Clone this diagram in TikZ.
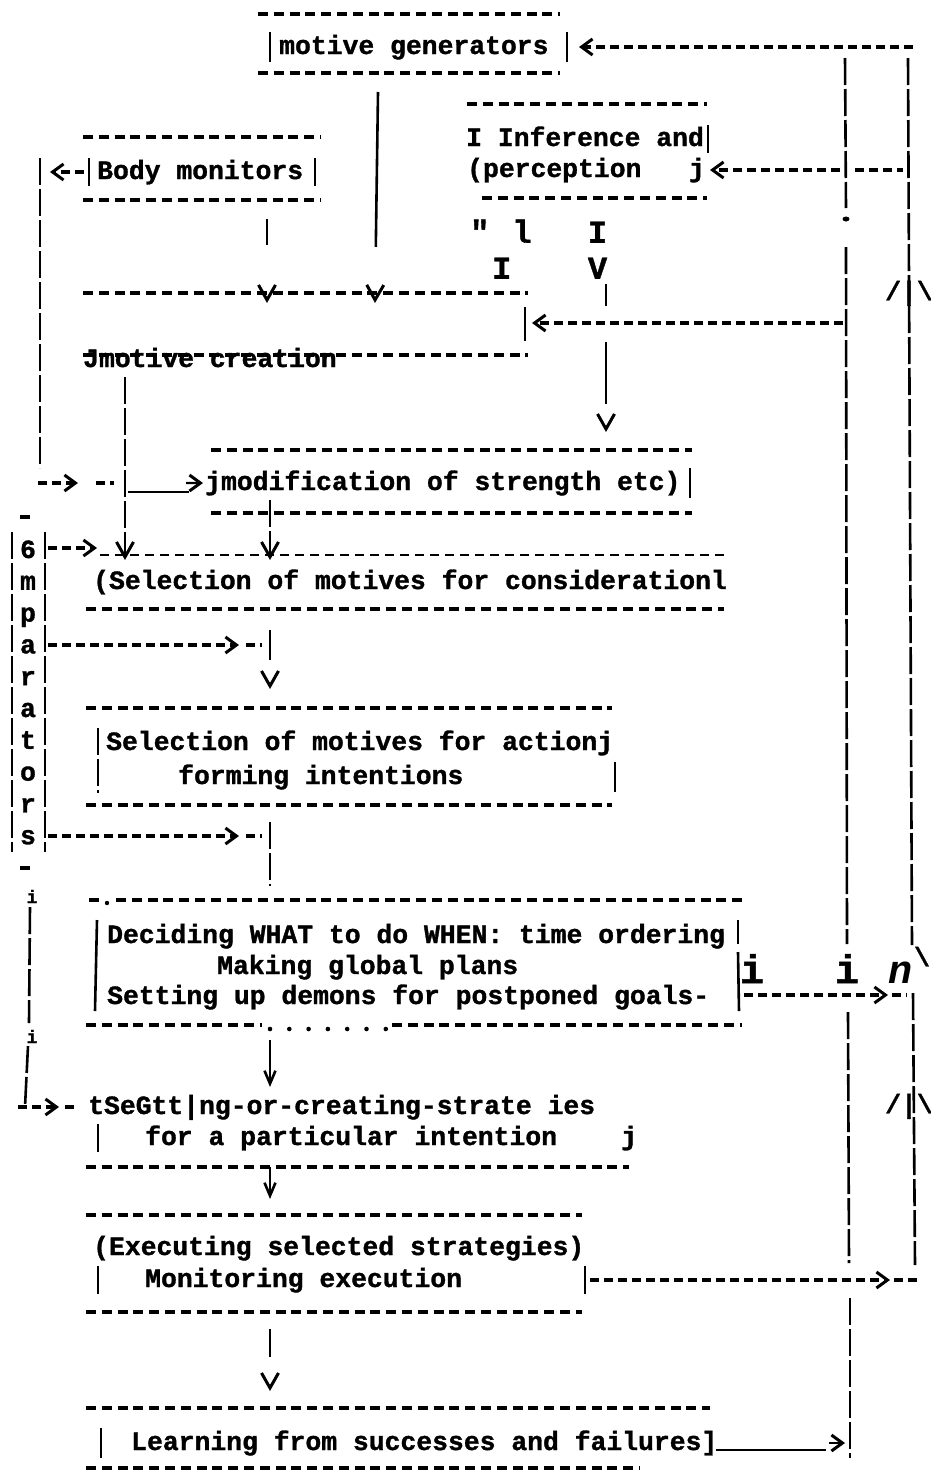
\documentclass[tikz,border=0pt]{standalone}
\usepackage{fontspec}
\usetikzlibrary{arrows.meta}
\newfontfamily\twfont[BoldFeatures={FakeBold=1.2}]{Liberation Mono}
\tikzset{
 txt/.style={anchor=base west,inner sep=0pt,font=\twfont\bfseries\fontsize{26.4}{30}\selectfont},
 ctxt/.style={anchor=base,inner sep=0pt,font=\twfont\bfseries\fontsize{26.4}{30}\selectfont},
 bigtxt/.style={anchor=base,inner sep=0pt,text height=27pt,text depth=0pt,font=\twfont\bfseries\fontsize{40}{44}\selectfont},
 bigpair/.style={inner sep=0pt,align=left,font=\twfont\bfseries\fontsize{32}{36}\selectfont},
 bigit/.style={anchor=base,inner sep=0pt,text height=22pt,text depth=0pt,font=\twfont\bfseries\itshape\fontsize{40}{44}\selectfont},
 smalltxt/.style={anchor=base,inner sep=0pt,font=\twfont\bfseries\fontsize{18}{20}\selectfont},
 rule/.style={line width=3.6pt,dash pattern=on 10pt off 5.8pt},
 link/.style={line width=3.2pt,dash pattern=on 9pt off 5pt},
 vline/.style={line width=2.6pt,dash pattern=on 27pt off 4pt},
 bar/.style={line width=2.6pt},
 solidln/.style={line width=2.4pt},
 hd/.style={-{Straight Barb[length=11pt,width=16pt,line width=3pt]}},
 vd/.style={-{Straight Barb[length=15pt,width=17pt,line width=3pt]}},
 dn/.style={-{Straight Barb[length=13pt,width=11pt,line width=2.6pt]}},
}
\begin{document}
\begin{tikzpicture}[x=1pt,y=-1pt]
\fill[white] (0,0) rectangle (931,1470);
\useasboundingbox (0,0) rectangle (931,1470);

% motive generators
\draw[rule] (258,14) -- (560,14);
\draw[bar] (270,32) -- (270,62);
\node[txt] (gen) at (279,54) {motive generators};
\draw[bar] (567,32) -- (567,62);
\draw[rule] (258,73) -- (560,73);

% right-hand columns
\coordinate (bT) at (913,47);
\draw[link,hd] (bT) -- (579,47);
\draw[vline] (908,58) -- (912,945);
\draw[vline] (913,993) -- (915,1265);
\draw[vline] (845,58) -- (846,208);
\fill (846,219) ellipse (3.5pt and 2.5pt);
\draw[vline] (846,247) -- (847,944);
\draw[vline] (848,1012) -- (849,1263);
\draw[vline] (850,1298) -- (850,1458);
\node[ctxt] (up1) at (909,300) {/|\textbackslash};
\node[ctxt] (up2) at (909,1113) {/|\textbackslash};

% inference and perception
\draw[rule] (467,104) -- (707,104);
\node[txt] (inf1) at (466,146) {I Inference and};
\draw[bar] (708,125) -- (708,153);
\node[txt] (inf2) at (467,177) {(perception~~~j};
\draw[rule] (482,198) -- (707,198);
\draw[link,hd] (840,170) -- (710,170);
\draw[link] (855,170) -- (903,170);

% body monitors
\draw[rule] (83,137) -- (321,137);
\draw[bar] (89,158) -- (89,186);
\node[txt] (body) at (97,179) {Body monitors};
\draw[bar] (315,158) -- (315,186);
\draw[rule] (83,200) -- (321,200);
\draw[link,hd] (84,172) -- (50,172);
\draw[vline] (40,158) -- (40,468);
\draw[link,hd] (38,483) -- (78,483);
\draw[link] (96,483) -- (114,483);

% connectors into motive creation
\draw[vline,dash pattern=on 155pt off 200pt,vd] (378,92) -- (375,303);
\draw[bar,dash pattern=on 26pt off 100pt,vd] (267,219) -- (267,303);
\node[bigpair,anchor=south west] (qlI) at (470,279) {"\hspace*{23pt}l\\\hspace*{22pt}I};
\node[bigpair,align=center,anchor=south] (IV) at (597.5,279) {I\\V};
\draw[vline,dash pattern=on 22pt off 36pt on 62pt off 100pt,vd] (606,284) -- (606,432);

% motive creation
\draw[rule] (83,293) -- (528,293);
\draw[bar] (525,307) -- (525,341);
\draw[link,hd] (843,323) -- (532,323);
\draw[rule] (83,355) -- (528,355);
\node[txt] (create) at (83,367) {Jmotive creation};
\draw[vline,vd] (125,377) -- (125,560);

% modification
\draw[rule] (211,450) -- (692,450);
\node[txt] (mod) at (205,490) {jmodification of strength etc)};
\draw[bar] (690,468) -- (690,498);
\draw[rule] (211,513) -- (692,513);
\draw[solidln] (128,492) -- (189,492);
\draw[solidln,hd,shorten >=2pt] (186,483) -- (mod.west);
\draw[vline,vd] (270,500) -- (270,560);

% comparators
\draw[rule] (20,517) -- (33,517);
\draw[vline] (12,532) -- (12,852);
\draw[vline] (45,532) -- (45,852);
\foreach \c [count=\i from 0] in {6,m,p,a,r,a,t,o,r,s}
  \node[ctxt] (cmp\i) at (28,{558+31.8*\i}) {\c};
\draw[rule] (20,868) -- (33,868);

% selection for consideration
\draw[link,hd] (48,548) -- (97,548);
\draw[line width=2.6pt,dash pattern=on 9pt off 6pt] (100,555) -- (724,555);
\node[txt] (consid) at (93,589) {(Selection of motives for considerationl};
\draw[rule] (86,609) -- (724,609);
\draw[link,hd] (48,645) -- (239,645);
\draw[link] (246,645) -- (262,645);
\draw[bar,dash pattern=on 30pt off 100pt,vd] (270,630) -- (270,689);

% selection for action
\draw[rule] (86,708) -- (612,708);
\draw[vline] (98,728) -- (98,793);
\node[txt] (act1) at (106,750) {Selection of motives for actionj};
\node[txt] (act2) at (178,784) {forming intentions};
\draw[bar] (615,762) -- (615,792);
\draw[rule] (86,805) -- (612,805);
\draw[link,hd] (48,836) -- (239,836);
\draw[link] (246,836) -- (262,836);
\draw[vline] (270,822) -- (270,886);

% left loop
\node[smalltxt] (i1) at (32,903) {i};
\draw[vline] (30,907) -- (29,1023);
\node[smalltxt] (i2) at (32,1043) {i};
\draw[vline] (28,1046) -- (25,1107);
\draw[link,hd] (18,1107) -- (59,1107);
\draw[link] (65,1107) -- (78,1107);

% deciding
\draw[rule] (89,900) -- (101,900);
\fill (107,903) circle (2.2pt);
\draw[rule] (116,900) -- (742,900);
\draw[bar] (97,920) -- (95,1011);
\draw[bar] (738,920) -- (738,944);
\draw[bar] (738,952) -- (739,1011);
\node[txt] (dec1) at (107,943) {Deciding WHAT to do WHEN: time ordering};
\node[txt] (dec2) at (217,974) {Making global plans};
\node[txt] (dec3) at (107,1004) {Setting up demons for postponed goals-};
\node[bigtxt] (ia) at (752,983) {i};
\node[bigtxt] (ib) at (847,983) {i};
\node[bigit] (nn) at (900,983) {n};
\node[ctxt] (bs) at (922,966) {\textbackslash};
\draw[link,hd] (744,995) -- (888,995);
\draw[link] (892,995) -- (907,995);
\draw[rule] (86,1025) -- (262,1025);
\foreach \k in {0,...,6} \fill ({270+19.3*\k},1029) circle (2.3pt);
\draw[rule] (392,1025) -- (742,1025);
\draw[solidln,dn] (270,1040) -- (270,1087);

% selecting strategies
\node[txt] (sel1) at (88,1114) {tSeGtt|ng-or-creating-strate ies};
\draw[bar] (98,1124) -- (98,1152);
\node[txt] (sel2) at (145,1145) {for a particular intention};
\node[txt] (selj) at (621,1145) {j};
\draw[rule] (86,1167) -- (629,1167);
\draw[solidln,dn] (270,1167) -- (270,1199);

% executing
\draw[rule] (86,1215) -- (582,1215);
\node[txt] (ex1) at (93,1255) {(Executing selected strategies)};
\draw[bar] (98,1266) -- (98,1294);
\node[txt] (ex2) at (145,1287) {Monitoring execution};
\draw[bar] (585,1266) -- (585,1294);
\draw[link,hd] (590,1280) -- (890,1280);
\draw[link] (894,1280) -- (921,1280);
\draw[rule] (86,1312) -- (582,1312);
\draw[bar,dash pattern=on 28pt off 100pt,vd] (270,1329) -- (270,1391);

% learning
\draw[rule] (86,1408) -- (710,1408);
\draw[bar] (101,1428) -- (101,1458);
\node[txt] (learn) at (131,1450) {Learning from successes and failures]};
\draw[solidln] (716,1450) -- (826,1450);
\draw[solidln,hd] (829,1443) -- (845,1443);
\draw[rule] (86,1468) -- (640,1468);
\end{tikzpicture}
\end{document}
